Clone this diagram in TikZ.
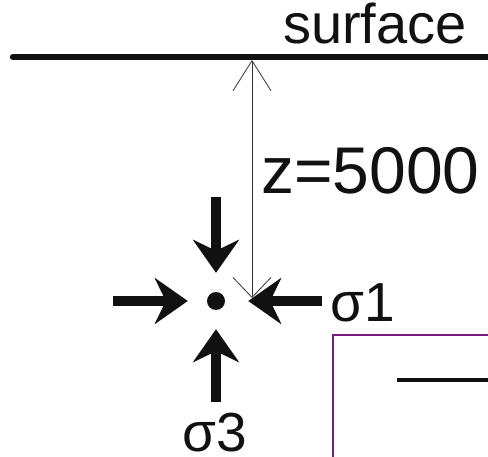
\documentclass[tikz,border=0pt]{standalone}
\usepackage{fontspec}
\setmainfont{Liberation Sans}
\usetikzlibrary{arrows.meta, positioning}
\definecolor{ink}{HTML}{111111}
\definecolor{box-border}{HTML}{7B1A7E}
\tikzset{
  label-text/.style={inner sep=0pt, anchor=base west, text=ink},
  stress-arrow/.style={
    -{Stealth[length=33pt, width=46pt, inset=11pt]},
    line width=10.5pt, draw=ink, shorten >=19pt
  },
  depth-line/.style={
    {Straight Barb[length=30pt, width=38pt, line width=0.8pt]}-{Straight Barb[length=20pt, width=38pt, line width=0.8pt]},
    line width=0.8pt, draw=ink!85
  }
}

\begin{document}
\begin{tikzpicture}[x=1pt, y=-1pt]
  \clip (0,0) rectangle (488,457);
  \useasboundingbox (0,0) rectangle (488,457);

  % Ground surface
  \coordinate (surf-left) at (13,57);
  \coordinate (surf-right) at (495,57);
  \draw[line width=6.5pt, line cap=round, draw=ink] (surf-left) -- (surf-right);
  \node[label-text, font=\fontsize{56}{64}\selectfont] (surface) at (283,44) {surface};

  % Point at depth with stresses
  \node[circle, fill=ink, inner sep=0pt, minimum size=18pt] (dot) at (216,301) {};
  \coordinate (n-tail) at (216,197);
  \coordinate (s-tail) at (216,402);
  \coordinate (w-tail) at (113,301);
  \coordinate (e-tail) at (322,301);
  \draw[stress-arrow] (n-tail) -- (dot);
  \draw[stress-arrow] (s-tail) -- (dot);
  \draw[stress-arrow] (w-tail) -- (dot);
  \draw[stress-arrow, shorten >=23pt] (e-tail) -- (dot);

  \node[label-text, font=\fontsize{55}{64}\selectfont] (sig1) at (330,322) {σ1};
  \node[label-text, font=\fontsize{55}{64}\selectfont] (sig3) at (182,451) {σ3};

  % Depth dimension
  \coordinate (dim-top) at (252,60);
  \coordinate (dim-bot) at (252,298);
  \draw[depth-line] (dim-top) -- (dim-bot);
  \node[label-text, font=\fontsize{66}{76}\selectfont] (depth) at (261,194) {z=5000};

  % Inset box
  \coordinate (box-corner) at (333,335);
  \coordinate (box-far) at (500,470);
  \draw[line width=2pt, draw=box-border] (box-corner) rectangle (box-far);
  \coordinate (tick-left) at (397,380);
  \coordinate (tick-right) at (495,380);
  \draw[line width=4pt, draw=ink] (tick-left) -- (tick-right);
\end{tikzpicture}
\end{document}
